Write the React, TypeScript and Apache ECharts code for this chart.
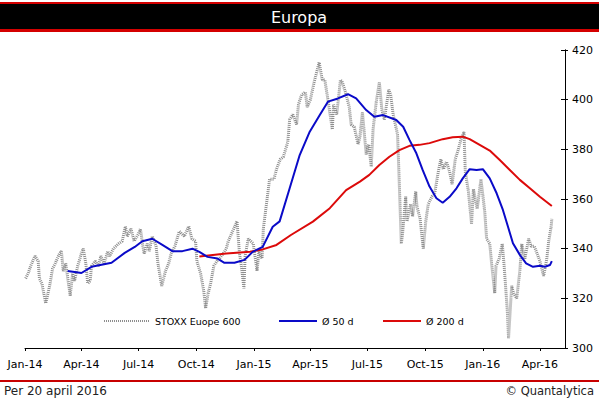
import React, { useEffect, useRef } from 'react';
import * as echarts from 'echarts';

const MONTHS = ['Jan', 'Feb', 'Mar', 'Apr', 'May', 'Jun', 'Jul', 'Aug', 'Sep', 'Oct', 'Nov', 'Dec'];
const TITLE = 'Europa';
const FOOTER_LEFT = 'Per 20 april 2016';
const FOOTER_RIGHT = '© Quantalytica';
const SERIES_NAMES = ['STOXX Euope 600', 'Ø 50 d', 'Ø 200 d'];
const Y_MIN = 300;
const Y_MAX = 420;
const Y_STEP = 20;
const X_MIN = '2014-01-01';
const X_MAX = '2016-05-11';

const stoxx: [string, number][] = [
  ['2014-01-02', 328], ['2014-01-06', 330], ['2014-01-10', 333], ['2014-01-15', 336], ['2014-01-17', 337],
  ['2014-01-22', 335], ['2014-01-24', 328], ['2014-01-28', 326], ['2014-02-03', 318], ['2014-02-05', 320],
  ['2014-02-10', 326], ['2014-02-14', 332], ['2014-02-18', 334], ['2014-02-25', 338], ['2014-02-28', 339],
  ['2014-03-03', 331], ['2014-03-07', 334], ['2014-03-13', 323], ['2014-03-14', 321], ['2014-03-18', 330],
  ['2014-03-21', 327], ['2014-03-26', 333], ['2014-04-02', 339], ['2014-04-04', 340], ['2014-04-08', 334],
  ['2014-04-11', 326], ['2014-04-15', 327], ['2014-04-17', 333], ['2014-04-23', 335], ['2014-04-28', 333],
  ['2014-05-02', 337], ['2014-05-07', 334], ['2014-05-13', 339], ['2014-05-16', 337], ['2014-05-22', 340],
  ['2014-05-30', 342], ['2014-06-05', 343], ['2014-06-10', 349], ['2014-06-13', 345], ['2014-06-19', 348],
  ['2014-06-24', 343], ['2014-07-01', 346], ['2014-07-04', 348], ['2014-07-08', 341], ['2014-07-10', 338],
  ['2014-07-15', 342], ['2014-07-18', 339], ['2014-07-23', 345], ['2014-07-29', 341], ['2014-08-01', 334],
  ['2014-08-07', 325], ['2014-08-08', 325], ['2014-08-13', 331], ['2014-08-18', 334], ['2014-08-22', 338],
  ['2014-08-28', 341], ['2014-09-04', 347], ['2014-09-08', 346], ['2014-09-12', 345], ['2014-09-19', 349],
  ['2014-09-24', 344], ['2014-09-30', 343], ['2014-10-02', 335], ['2014-10-08', 330], ['2014-10-13', 323],
  ['2014-10-16', 316], ['2014-10-20', 322], ['2014-10-24', 326], ['2014-10-29', 333], ['2014-11-03', 335],
  ['2014-11-07', 336], ['2014-11-13', 338], ['2014-11-18', 340], ['2014-11-21', 343], ['2014-11-28', 347],
  ['2014-12-05', 351], ['2014-12-09', 338], ['2014-12-12', 333], ['2014-12-16', 324], ['2014-12-18', 337],
  ['2014-12-23', 344], ['2014-12-31', 342], ['2015-01-06', 331], ['2015-01-09', 339], ['2015-01-14', 336],
  ['2015-01-16', 348], ['2015-01-22', 360], ['2015-01-26', 368], ['2015-02-02', 368], ['2015-02-06', 372],
  ['2015-02-12', 376], ['2015-02-17', 377], ['2015-02-24', 383], ['2015-02-27', 392], ['2015-03-04', 394],
  ['2015-03-10', 390], ['2015-03-13', 398], ['2015-03-18', 402], ['2015-03-24', 403], ['2015-03-27', 397],
  ['2015-04-01', 400], ['2015-04-07', 407], ['2015-04-10', 410], ['2015-04-15', 415], ['2015-04-20', 408],
  ['2015-04-24', 408], ['2015-04-29', 400], ['2015-05-06', 388], ['2015-05-08', 398], ['2015-05-13', 394],
  ['2015-05-19', 408], ['2015-05-22', 407], ['2015-05-27', 403], ['2015-06-02', 397], ['2015-06-05', 390],
  ['2015-06-10', 389], ['2015-06-16', 382], ['2015-06-19', 385], ['2015-06-23', 395], ['2015-06-29', 378],
  ['2015-07-03', 382], ['2015-07-07', 373], ['2015-07-10', 388], ['2015-07-15', 399], ['2015-07-20', 407],
  ['2015-07-24', 396], ['2015-07-28', 392], ['2015-08-04', 404], ['2015-08-07', 402], ['2015-08-11', 394],
  ['2015-08-18', 386], ['2015-08-20', 372], ['2015-08-24', 342], ['2015-08-26', 346], ['2015-08-31', 361],
  ['2015-09-02', 351], ['2015-09-08', 358], ['2015-09-11', 353], ['2015-09-16', 363], ['2015-09-18', 357],
  ['2015-09-23', 352], ['2015-09-28', 340], ['2015-10-02', 351], ['2015-10-06', 358], ['2015-10-12', 361],
  ['2015-10-16', 362], ['2015-10-22', 371], ['2015-10-26', 376], ['2015-10-30', 372], ['2015-11-04', 375],
  ['2015-11-09', 371], ['2015-11-13', 366], ['2015-11-18', 376], ['2015-11-23', 380], ['2015-11-27', 384],
  ['2015-12-02', 387], ['2015-12-04', 371], ['2015-12-09', 363], ['2015-12-14', 350], ['2015-12-17', 364],
  ['2015-12-23', 356], ['2015-12-29', 368], ['2016-01-04', 355], ['2016-01-07', 344], ['2016-01-12', 342],
  ['2016-01-15', 334], ['2016-01-20', 322], ['2016-01-22', 333], ['2016-01-27', 336], ['2016-02-01', 342],
  ['2016-02-04', 333], ['2016-02-09', 315], ['2016-02-11', 304], ['2016-02-16', 325], ['2016-02-19', 322],
  ['2016-02-24', 320], ['2016-02-29', 331], ['2016-03-03', 342], ['2016-03-08', 336], ['2016-03-14', 344],
  ['2016-03-18', 341], ['2016-03-23', 341], ['2016-03-29', 337], ['2016-04-01', 335], ['2016-04-07', 329],
  ['2016-04-12', 336], ['2016-04-15', 343], ['2016-04-19', 349], ['2016-04-20', 352],
];

const ma50: [string, number][] = [
  ['2014-03-10', 331], ['2014-04-01', 330.2], ['2014-04-17', 332.7], ['2014-05-03', 333.5], ['2014-05-19', 334.3],
  ['2014-06-09', 338.3], ['2014-06-25', 340.7], ['2014-07-07', 343], ['2014-07-23', 344], ['2014-08-08', 341.5],
  ['2014-08-24', 339], ['2014-09-09', 339], ['2014-09-25', 340], ['2014-10-06', 338.7], ['2014-10-19', 336.7],
  ['2014-11-04', 336], ['2014-11-15', 334.3], ['2014-12-01', 334.3], ['2014-12-17', 335.5], ['2014-12-30', 338.7],
  ['2015-01-15', 340.7], ['2015-01-31', 348.8], ['2015-02-11', 351], ['2015-02-27', 364.3], ['2015-03-15', 377.7],
  ['2015-03-31', 387.1], ['2015-04-16', 393.8], ['2015-04-29', 399.2], ['2015-05-15', 400.5], ['2015-05-31', 402.2],
  ['2015-06-13', 400.5], ['2015-06-29', 395.8], ['2015-07-12', 393.1], ['2015-07-26', 393.8], ['2015-08-16', 391.8],
  ['2015-08-27', 389.1], ['2015-09-06', 383.8], ['2015-09-17', 378.4], ['2015-09-27', 371.7], ['2015-10-08', 365],
  ['2015-10-19', 360.3], ['2015-10-29', 358.5], ['2015-11-09', 360.9], ['2015-11-20', 364.3], ['2015-11-30', 368.3],
  ['2015-12-11', 372], ['2015-12-22', 371.7], ['2016-01-01', 372], ['2016-01-12', 368.3], ['2016-01-23', 362.3],
  ['2016-02-02', 355.6], ['2016-02-10', 348.9], ['2016-02-18', 342.2], ['2016-02-29', 337.5], ['2016-03-10', 334.1],
  ['2016-03-21', 332.7], ['2016-04-01', 333.1], ['2016-04-09', 332.7], ['2016-04-17', 333.4], ['2016-04-20', 335],
];

const ma200: [string, number][] = [
  ['2014-10-06', 336.8], ['2014-11-18', 338.1], ['2014-12-26', 338.8], ['2015-01-15', 339.7], ['2015-02-06', 341.5],
  ['2015-03-01', 345.5], ['2015-04-05', 350.9], ['2015-05-02', 356.3], ['2015-05-28', 363.6], ['2015-06-19', 367],
  ['2015-07-04', 369.7], ['2015-07-20', 373.7], ['2015-08-05', 377], ['2015-08-21', 379.7], ['2015-09-06', 381.4],
  ['2015-09-22', 381.8], ['2015-10-08', 382.5], ['2015-10-29', 384.1], ['2015-11-14', 384.9], ['2015-11-30', 385.1],
  ['2015-12-11', 384.1], ['2015-12-27', 381.8], ['2016-01-12', 379.5], ['2016-01-28', 375.7], ['2016-02-13', 371.7],
  ['2016-02-29', 367.7], ['2016-03-16', 364.3], ['2016-04-01', 360.9], ['2016-04-20', 357.2],
];

const FONT = 'DejaVu Sans';
const DAY = 86400000;
const LEGEND_LEFTS = [98, 273, 377];

export default function App() {
  const ref = useRef<HTMLDivElement>(null);
  useEffect(() => {
    if (!ref.current) return;
    const chart = echarts.init(ref.current, null, { renderer: 'svg' });
    const yAxisBase = {
      type: 'value',
      position: 'right',
      min: Y_MIN,
      max: Y_MAX,
      interval: Y_STEP,
      axisLine: { show: true, lineStyle: { color: '#000', width: 1 } },
      splitLine: { show: false },
    };
    const legends = SERIES_NAMES.map((name, i) => ({
      top: 311,
      left: LEGEND_LEFTS[i],
      itemWidth: i === 0 ? 46 : 38,
      itemHeight: 10,
      itemGap: 6,
      itemStyle: { opacity: 0 },
      textStyle: { color: '#000', fontFamily: FONT, fontSize: 9.5, padding: [0, 0, 0, 0] },
      data: [name],
    }));
    chart.setOption({
      animation: false,
      backgroundColor: '#fff',
      grid: { left: 25, right: 34, top: 50, bottom: 51, containLabel: false },
      xAxis: {
        type: 'time',
        min: X_MIN,
        max: X_MAX,
        splitNumber: 9,
        minInterval: 91 * DAY,
        maxInterval: 150 * DAY,
        axisLine: { show: true, lineStyle: { color: '#000', width: 1 } },
        axisTick: { show: true, length: 3, lineStyle: { color: '#000' } },
        splitLine: { show: false },
        axisLabel: {
          color: '#000',
          fontFamily: FONT,
          fontSize: 11,
          margin: 11,
          showMaxLabel: false,
          hideOverlap: false,
          formatter: (val: number) => {
            const d = new Date(val);
            return MONTHS[d.getMonth()] + '-' + String(d.getFullYear()).slice(2);
          },
        },
      },
      yAxis: [
        {
          ...yAxisBase,
          axisTick: { show: true, length: 3, inside: false, lineStyle: { color: '#000' } },
          axisLabel: { color: '#000', fontFamily: FONT, fontSize: 11, margin: 7 },
        },
        {
          ...yAxisBase,
          axisTick: { show: true, length: 4, inside: true, lineStyle: { color: '#000' } },
          axisLabel: { show: false },
        },
      ],
      legend: legends,
      series: [
        {
          name: SERIES_NAMES[0],
          type: 'line',
          data: stoxx,
          symbol: 'none',
          showSymbol: false,
          z: 1,
          itemStyle: { color: '#8e8e8e' },
          lineStyle: { color: '#8e8e8e', width: 3, type: [1, 1] },
        },
        {
          name: SERIES_NAMES[1],
          type: 'line',
          data: ma50,
          symbol: 'none',
          showSymbol: false,
          z: 3,
          itemStyle: { color: '#0a0ac8' },
          lineStyle: { color: '#0a0ac8', width: 2 },
        },
        {
          name: SERIES_NAMES[2],
          type: 'line',
          data: ma200,
          symbol: 'none',
          showSymbol: false,
          z: 2,
          itemStyle: { color: '#dc0a0a' },
          lineStyle: { color: '#dc0a0a', width: 2 },
        },
      ],
      graphic: [
        { type: 'rect', left: 0, top: 2, shape: { width: 599, height: 2 }, style: { fill: '#d40000' }, silent: true },
        { type: 'rect', left: 0, top: 4, shape: { width: 599, height: 25 }, style: { fill: '#000' }, silent: true },
        { type: 'rect', left: 0, top: 29, shape: { width: 599, height: 3 }, style: { fill: '#d40000' }, silent: true },
        {
          type: 'text', x: 299, y: 17,
          style: { text: TITLE, fill: '#fff', font: `16px ${FONT}`, align: 'center', verticalAlign: 'middle' },
          silent: true,
        },
        { type: 'rect', left: 0, top: 380, shape: { width: 599, height: 2 }, style: { fill: '#c80000' }, silent: true },
        {
          type: 'text', x: 4, y: 391,
          style: { text: FOOTER_LEFT, fill: '#222', font: `12px ${FONT}`, align: 'left', verticalAlign: 'middle' },
          silent: true,
        },
        {
          type: 'text', x: 594, y: 391,
          style: { text: FOOTER_RIGHT, fill: '#222', font: `11.5px ${FONT}`, align: 'right', verticalAlign: 'middle' },
          silent: true,
        },
      ],
    });
    return () => chart.dispose();
  }, []);
  return <div ref={ref} style={{ position: 'fixed', left: 0, top: 0, width: 599, height: 399 }} />;
}
